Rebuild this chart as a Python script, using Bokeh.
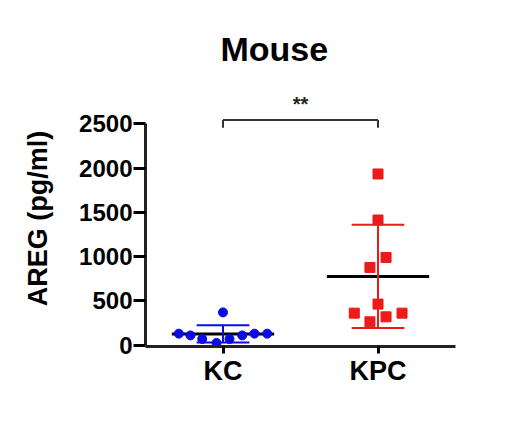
import numpy as np
from bokeh.plotting import figure
from bokeh.models import FixedTicker, Range1d
from bokeh.core.properties import value
from bokeh.embed import file_html
from bokeh.resources import INLINE

# ---- data ----
groups = ["KC", "KPC"]
kc_values = [130, 110, 70, 25, 70, 110, 130, 130, 370]
kc_offsets = [-0.285, -0.21, -0.134, -0.042, 0.042, 0.124, 0.203, 0.285, 0.0]
kpc_values = [1934, 1414, 991, 878, 464, 362, 362, 320, 264]
kpc_offsets = [0.0, 0.0, 0.052, -0.052, 0.0, -0.153, 0.155, 0.052, -0.052]
y_ticks = [0, 500, 1000, 1500, 2000, 2500]
significance = "**"
title_text = "Mouse"
y_label = "AREG (pg/ml)"

FONT = "Liberation Sans"
BLUE = "#0a0ae8"
RED = "#ec1a1a"

p = figure(width=513, height=409, output_backend="svg", toolbar_location=None,
           x_range=Range1d(0.5, 2.5), y_range=Range1d(-15, 2877),
           min_border_left=145, min_border_right=58, min_border_top=90, min_border_bottom=63)
p.outline_line_color = None
p.xgrid.visible = False
p.ygrid.visible = False
p.background_fill_color = "white"

p.title.text = title_text
p.title.text_font = FONT
p.title.text_font_size = "34px"
p.title.text_font_style = "bold"
p.title.text_color = "black"
p.title.align = "left"
p.title.offset = 75
p.title.standoff = 46

positions = [1, 2]
series = [(kc_values, kc_offsets, "circle", 9, BLUE), (kpc_values, kpc_offsets, "square", 10, RED)]

for pos, (vals, offs, marker, size, col) in zip(positions, series):
    arr = np.array(vals, dtype=float)
    m = arr.mean()
    sd = arr.std(ddof=1)
    # mean line
    p.segment(x0=[pos - 0.33], y0=[m], x1=[pos + 0.33], y1=[m], line_color="black", line_width=3)
    # sd bars
    p.segment(x0=[pos, pos - 0.17, pos - 0.17], y0=[m - sd, m + sd, m - sd],
              x1=[pos, pos + 0.17, pos + 0.17], y1=[m + sd, m + sd, m - sd],
              line_color=col, line_width=2)
    xs = [pos + o for o in offs]
    p.scatter(xs, vals, marker=marker, size=size, fill_color=col, line_color=col)

# significance bracket
br_y = 2545
br_drop = 90
p.segment(x0=[positions[0], positions[0], positions[1]], y0=[br_y, br_y, br_y],
          x1=[positions[1], positions[0], positions[1]], y1=[br_y, br_y - br_drop, br_y - br_drop],
          line_color="#333333", line_width=2)
p.text(x=[(positions[0] + positions[1]) / 2], y=[br_y + 60], text=[significance],
       text_font=value(FONT), text_font_size="20px", text_font_style="bold",
       text_align="center", text_baseline="bottom", text_color="#222222")

# axes
p.xaxis.ticker = FixedTicker(ticks=positions)
p.xaxis.major_label_overrides = {pos: g for pos, g in zip(positions, groups)}
p.xaxis.minor_tick_line_color = None
p.xaxis.major_tick_in = 0
p.xaxis.major_tick_out = 7
p.xaxis.major_label_standoff = 2
p.xaxis.major_label_text_font = FONT
p.xaxis.major_label_text_font_size = "27px"
p.xaxis.major_label_text_font_style = "bold"
p.xaxis.major_label_text_color = "black"
p.xaxis.axis_line_width = 3
p.xaxis.major_tick_line_width = 3
p.xaxis.axis_line_color = "#222222"

p.yaxis.ticker = FixedTicker(ticks=y_ticks)
p.yaxis.bounds = (y_ticks[0], y_ticks[-1])
p.yaxis.minor_tick_line_color = None
p.yaxis.major_tick_in = 0
p.yaxis.major_tick_out = 12
p.yaxis.major_label_standoff = 1
p.yaxis.major_label_text_font = FONT
p.yaxis.major_label_text_font_size = "24px"
p.yaxis.major_label_text_font_style = "bold"
p.yaxis.major_label_text_color = "black"
p.yaxis.axis_line_width = 3
p.yaxis.major_tick_line_width = 3
p.yaxis.axis_line_color = "#222222"
p.yaxis.axis_label = y_label
p.yaxis.axis_label_text_font = FONT
p.yaxis.axis_label_text_font_size = "27px"
p.yaxis.axis_label_text_font_style = "bold"
p.yaxis.axis_label_text_color = "black"
p.yaxis.axis_label_standoff = 23

open("out.html", "w").write(file_html(p, INLINE))
